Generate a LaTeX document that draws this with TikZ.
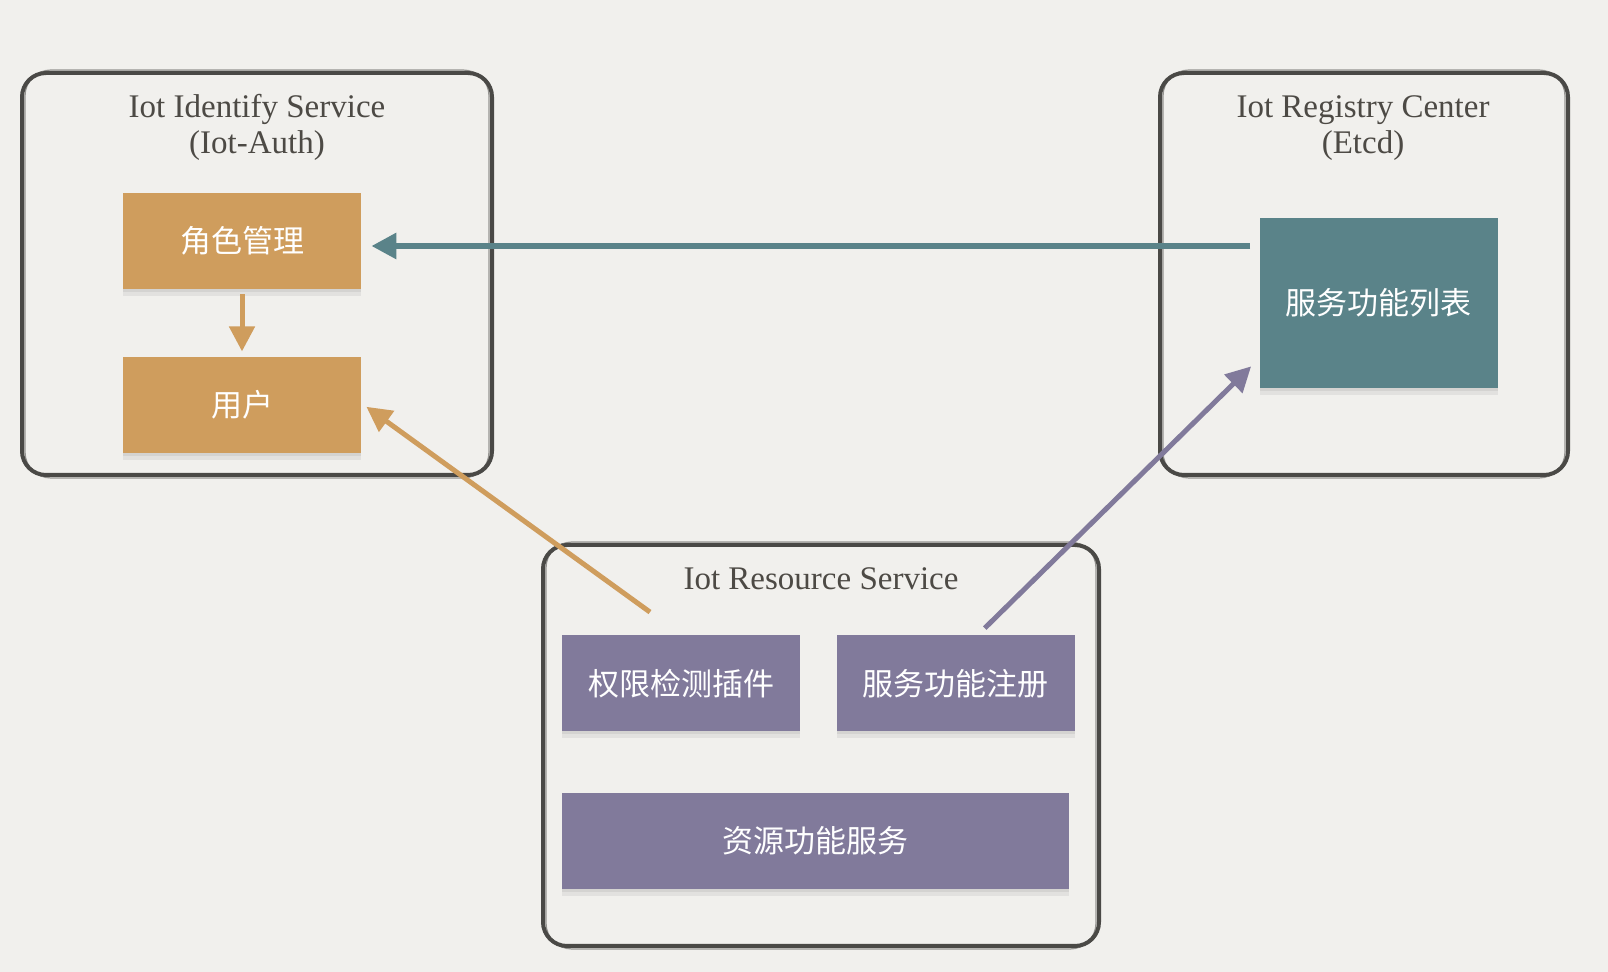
\documentclass[tikz,border=0pt]{standalone}
\usepackage{fontspec}
\setmainfont{Liberation Serif}
\newfontfamily\cjk{Noto Sans CJK SC}
\usetikzlibrary{arrows.meta,positioning,shadows}
\definecolor{paper}{HTML}{F1F0ED}
\definecolor{ink}{HTML}{4A4946}
\definecolor{titlegray}{HTML}{4D4A45}
\definecolor{ochre}{HTML}{CF9D5D}
\definecolor{slateteal}{HTML}{5A8389}
\definecolor{lavender}{HTML}{817A9B}
\tikzset{
    frame/.style={draw=ink, line width=2pt, rounded corners=12pt},
    frameedge/.style={draw=ink, line width=.6pt, rounded corners=13pt, opacity=.55},
    title/.style={text=titlegray, font=\fontsize{16.5}{18}\selectfont, align=center, inner sep=0pt},
    box/.style={text=white, font=\cjk\fontsize{15.5}{18}\selectfont, inner sep=0pt,
        minimum width=119pt, minimum height=48pt,
        drop shadow={shadow xshift=0pt, shadow yshift=-3.5pt, fill=black, opacity=.06},
        drop shadow={shadow xshift=0pt, shadow yshift=-1.5pt, fill=black, opacity=.06}},
    authbox/.style={box, fill=ochre},
    registrybox/.style={box, fill=slateteal},
    resourcebox/.style={box, fill=lavender},
    link/.style={-{Triangle[length=12.5pt, width=12.5pt]}, line width=2.5pt}
}
\begin{document}
\begin{tikzpicture}[x=0.5pt, y=-0.5pt]

% Paper
\fill[paper] (0,0) rectangle (1608,972);

% Frames
\draw[frame] (22,73) rectangle (492,475);
\draw[frameedge] (25,70) rectangle (489,478);
\draw[frame] (1160,73) rectangle (1568,475);
\draw[frameedge] (1163,70) rectangle (1565,478);
\draw[frame] (543,545) rectangle (1099,946);
\draw[frameedge] (546,542) rectangle (1096,949);

% Titles (base = last line)
\node[title, anchor=base] (authtitle) at (257,154) {Iot Identify Service\\(Iot-Auth)};
\node[title, anchor=base] (regtitle) at (1363,154) {Iot Registry Center\\(Etcd)};
\node[title, anchor=base] (restitle) at (821,590) {Iot Resource Service};

% Identify service
\node[authbox] (role) at (242,241) {角色管理};
\node[authbox, below=33.5pt of role] (user) {用户};

% Registry center
\node[registrybox, minimum height=85pt] (funclist) at (1378.5,303) {服务功能列表};

% Resource service
\node[resourcebox] (authplug) at (681,683.5) {权限检测插件};
\node[resourcebox, right=18pt of authplug] (register) {服务功能注册};
\node[resourcebox, minimum width=253.5pt] (resource) at (815.5,841) {资源功能服务};

% Links
\draw[link, draw=ochre, shorten <=2.5pt, shorten >=2.5pt] (role.south) -- (user.north);
\draw[link, draw=slateteal, line width=3pt] ([xshift=-4.5pt,yshift=-2.5pt]funclist.west |- role.east) -- ([xshift=5pt,yshift=-2.5pt]role.east);
\draw[link, draw=ochre] ([xshift=-15.5pt,yshift=11.5pt]authplug.north) -- ([xshift=2.5pt,yshift=-1pt]user.east);
\draw[link, draw=lavender] ([xshift=14.5pt,yshift=3.5pt]register.north) -- ([xshift=-4pt,yshift=11pt]funclist.south west);

\end{tikzpicture}
\end{document}
